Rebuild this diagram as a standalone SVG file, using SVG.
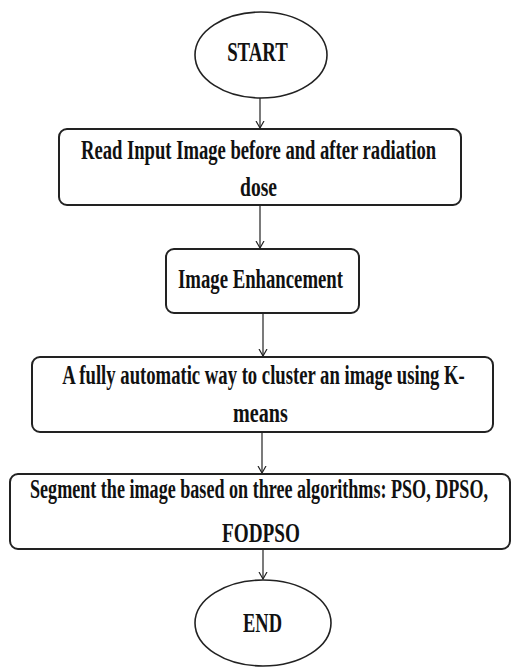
<svg xmlns="http://www.w3.org/2000/svg" width="511" height="669" viewBox="0 0 511 669">
<style>
.box{fill:#fff;stroke:#222;stroke-width:2}
.oval{fill:#fff;stroke:#222;stroke-width:1.6}
.t{font-family:"Liberation Serif","Times New Roman",serif;font-weight:bold;font-size:28px;fill:#111;text-anchor:middle}
.c{fill:none;stroke:#222;stroke-width:1.2}
</style>
<defs>
<marker id="ah" markerWidth="8" markerHeight="10" refX="7" refY="5" orient="auto" markerUnits="userSpaceOnUse">
<path d="M0,1 L7,5 L0,9" fill="none" stroke="#222" stroke-width="1.2"/>
</marker>
</defs>
<rect width="511" height="669" fill="#fff"/>
<g id="connectors">
<line class="c" x1="260" y1="98" x2="260" y2="128" marker-end="url(#ah)"/>
<line class="c" x1="260" y1="205" x2="260" y2="248" marker-end="url(#ah)"/>
<line class="c" x1="263" y1="313" x2="263" y2="356" marker-end="url(#ah)"/>
<line class="c" x1="262" y1="432" x2="262" y2="473" marker-end="url(#ah)"/>
<line class="c" x1="263" y1="549" x2="263" y2="579" marker-end="url(#ah)"/>
</g>
<g id="start">
<ellipse class="oval" cx="261" cy="55" rx="66" ry="43"/>
<text class="t" transform="translate(257.5,61) scale(0.66,1)" textLength="92" lengthAdjust="spacingAndGlyphs">START</text>
</g>
<g id="read">
<rect class="box" x="59" y="129" width="402" height="76" rx="8"/>
<text class="t" transform="translate(258.5,159) scale(0.66,1)" textLength="538" lengthAdjust="spacingAndGlyphs">Read Input Image before and after radiation</text>
<text class="t" transform="translate(258.5,196) scale(0.66,1)" textLength="56" lengthAdjust="spacingAndGlyphs">dose</text>
</g>
<g id="enhance">
<rect class="box" x="166" y="249" width="193" height="64" rx="8"/>
<text class="t" transform="translate(260.5,288) scale(0.66,1)" textLength="250" lengthAdjust="spacingAndGlyphs">Image Enhancement</text>
</g>
<g id="cluster">
<rect class="box" x="32" y="357" width="461" height="75" rx="8"/>
<text class="t" transform="translate(263.5,384) scale(0.66,1)" textLength="610" lengthAdjust="spacingAndGlyphs">A fully automatic way to cluster  an image using K-</text>
<text class="t" transform="translate(260.5,422) scale(0.66,1)" textLength="83" lengthAdjust="spacingAndGlyphs">means</text>
</g>
<g id="segment">
<rect class="box" x="10" y="474" width="500" height="75" rx="8"/>
<text class="t" transform="translate(259,498) scale(0.66,1)" textLength="694" lengthAdjust="spacingAndGlyphs">Segment the image based on three algorithms: PSO, DPSO,</text>
<text class="t" transform="translate(261,542) scale(0.66,1)" textLength="118" lengthAdjust="spacingAndGlyphs">FODPSO</text>
</g>
<g id="end">
<ellipse class="oval" cx="263" cy="623" rx="68" ry="43"/>
<text class="t" transform="translate(262.5,632) scale(0.66,1)" textLength="59" lengthAdjust="spacingAndGlyphs">END</text>
</g>
</svg>
